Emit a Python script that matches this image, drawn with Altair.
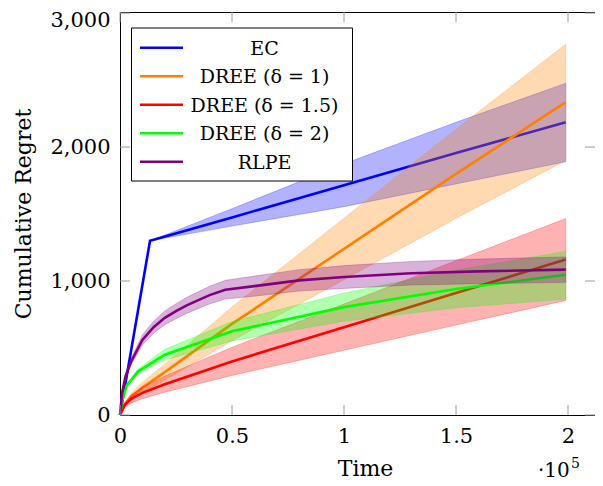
import altair as alt
import pandas as pd

# ---------------- data ----------------
series_names = ["EC", "DREE (δ = 1)", "DREE (δ = 1.5)", "DREE (δ = 2)", "RLPE"]
series_colors = ["#0000ff", "#ff8000", "#ff0000", "#00ff00", "#800080"]

ec_t = [0, 13400, 50000, 100000, 150000, 199000]
ec_mean = [0, 1300, 1475, 1715, 1955, 2185]
ec_lo = [0, 1300, 1410, 1555, 1725, 1890]
ec_hi = [0, 1300, 1540, 1875, 2185, 2476]

d1_t = [0, 2000, 5000, 10000, 20000, 50000, 100000, 150000, 199000]
d1_mean = [0, 75, 135, 205, 320, 680, 1240, 1800, 2335]
d1_lo = [0, 61, 110, 167, 261, 554, 1010, 1467, 1900]
d1_hi = [0, 89, 160, 243, 379, 806, 1469, 2133, 2767]

d15_t = [0, 2000, 5000, 10000, 20000, 50000, 100000, 150000, 199000]
d15_mean = [0, 72, 120, 165, 230, 400, 655, 911, 1160]
d15_lo = [0, 53, 88, 122, 170, 295, 483, 671, 855]
d15_hi = [0, 91, 152, 209, 291, 506, 828, 1152, 1466]

d2_t = [0, 1000, 3000, 8000, 20000, 50000, 100000, 150000, 199000]
d2_mean = [0, 110, 220, 324, 450, 625, 805, 940, 1047]
d2_lo = [0, 105, 210, 306, 410, 553, 700, 800, 865]
d2_hi = [0, 115, 230, 342, 490, 697, 910, 1080, 1222]

rl_t = [0, 1000, 2500, 5000, 10000, 15000, 20000, 25000, 30000, 40000, 47000,
        60000, 80000, 100000, 130000, 160000, 199000]
rl_mean = [0, 170, 290, 400, 560, 655, 725, 775, 820, 895, 935,
           962, 1005, 1030, 1058, 1072, 1085]
rl_lo = [0, 160, 272, 375, 522, 610, 673, 719, 760, 829, 865,
         887, 925, 945, 970, 980, 990]
rl_hi = [0, 180, 308, 425, 598, 700, 777, 831, 880, 961, 1005,
         1037, 1085, 1115, 1146, 1164, 1180]

x_ticks = [0, 50000, 100000, 150000, 200000]
y_ticks = [0, 1000, 2000, 3000]

# ---------------- build tables ----------------
all_series = [
    (ec_t, ec_mean, ec_lo, ec_hi),
    (d1_t, d1_mean, d1_lo, d1_hi),
    (d15_t, d15_mean, d15_lo, d15_hi),
    (d2_t, d2_mean, d2_lo, d2_hi),
    (rl_t, rl_mean, rl_lo, rl_hi),
]

FONT = "DejaVu Serif"
W, H = 475, 403
XMAX, YMAX = 212050, 3008

xscale = alt.Scale(domain=[0, XMAX], nice=False, zero=False)
yscale = alt.Scale(domain=[0, YMAX], nice=False, zero=False)

xaxis = alt.Axis(
    values=x_ticks, labelExpr="datum.value / 100000", title="Time",
    grid=False, ticks=False, tickSize=0, domain=False, labelFlush=False,
    labelFont=FONT, labelFontSize=21, labelColor="black", labelFontWeight="normal",
    labelBaseline="alphabetic", labelPadding=27,
    titleFont=FONT, titleFontSize=22, titleFontWeight="normal", titleColor="black",
    titleX=245, titleY=60, titleBaseline="alphabetic", titleAlign="center",
)
yaxis = alt.Axis(
    values=y_ticks, format=",d", title="Cumulative Regret",
    grid=False, ticks=False, tickSize=0, domain=False, labelFlush=False,
    labelFont=FONT, labelFontSize=21, labelColor="black", labelFontWeight="normal",
    labelPadding=10,
    labelOffset=alt.condition("datum.value == 3000", alt.value(7), alt.value(0)),
    titleFont=FONT, titleFontSize=22, titleFontWeight="normal", titleColor="black",
    titleX=-97, titleY=H / 2, titleAngle=-90, titleBaseline="middle", titleAlign="center",
)

layers = []
for (ts, m, lo, hi), color in zip(all_series, series_colors):
    df = pd.DataFrame({"t": ts, "v": m, "lo": lo, "hi": hi})
    band = alt.Chart(df).mark_area(
        color=color, fillOpacity=0.3, stroke=color, strokeOpacity=0.3, strokeWidth=0.8
    ).encode(
        x=alt.X("t:Q", scale=xscale, axis=xaxis),
        y=alt.Y("lo:Q", scale=yscale, axis=yaxis),
        y2="hi:Q",
    )
    line = alt.Chart(df).mark_line(color=color, strokeWidth=2.6).encode(
        x=alt.X("t:Q", scale=xscale, axis=xaxis),
        y=alt.Y("v:Q", scale=yscale, axis=yaxis),
    )
    layers += [band, line]

# inward tick marks on all four sides
xt = pd.DataFrame({"t": x_ticks})
yt = pd.DataFrame({"v": y_ticks})
tick_color = "#9a9a9a"
layers.append(alt.Chart(xt).mark_rule(color=tick_color, strokeWidth=1).encode(
    x=alt.X("t:Q", scale=xscale, axis=xaxis), y=alt.value(H), y2=alt.value(H - 10)))
layers.append(alt.Chart(xt).mark_rule(color=tick_color, strokeWidth=1).encode(
    x=alt.X("t:Q", scale=xscale, axis=xaxis), y=alt.value(0), y2=alt.value(10)))
layers.append(alt.Chart(yt).mark_rule(color=tick_color, strokeWidth=1).encode(
    y=alt.Y("v:Q", scale=yscale, axis=yaxis), x=alt.value(0), x2=alt.value(10)))
layers.append(alt.Chart(yt).mark_rule(color=tick_color, strokeWidth=1).encode(
    y=alt.Y("v:Q", scale=yscale, axis=yaxis), x=alt.value(W - 10), x2=alt.value(W)))

# ·10^5 multiplier
mult_df = pd.DataFrame({"label": ["·10"]})
sup_df = pd.DataFrame({"label": ["5"]})
layers.append(alt.Chart(mult_df).mark_text(
    font=FONT, fontSize=20, fontWeight="normal", align="left", baseline="alphabetic",
    fill="black"
).encode(x=alt.value(418), y=alt.value(465), text="label:N"))
layers.append(alt.Chart(sup_df).mark_text(
    font=FONT, fontSize=14, fontWeight="normal", align="left", baseline="alphabetic",
    fill="black"
).encode(x=alt.value(451), y=alt.value(456), text="label:N"))

# legend box
box_df = pd.DataFrame({"k": [0]})
layers.append(alt.Chart(box_df).mark_rect(
    fill="white", stroke="black", strokeWidth=1
).encode(x=alt.value(11.5), x2=alt.value(232.5), y=alt.value(16), y2=alt.value(169)))
row_y = [35.7, 64.2, 92.7, 121.2, 149.7]
for name, color, ry in zip(series_names, series_colors, row_y):
    one = pd.DataFrame({"name": [name]})
    layers.append(alt.Chart(one).mark_rule(color=color, strokeWidth=2.6).encode(
        x=alt.value(20), x2=alt.value(63), y=alt.value(ry)))
    layers.append(alt.Chart(one).mark_text(
        font=FONT, fontSize=19, fontWeight="normal", align="center", baseline="middle",
        fill="black"
    ).encode(x=alt.value(144.5), y=alt.value(ry + 1), text="name:N"))

chart = alt.layer(*layers).properties(
    width=W, height=H,
    autosize=alt.AutoSizeParams(type="none"),
    padding={"left": 112, "top": 4, "right": 0, "bottom": 71},
).configure_view(stroke="black", strokeWidth=1)

chart.save("out.html", embed_options={"renderer": "svg", "actions": False})
